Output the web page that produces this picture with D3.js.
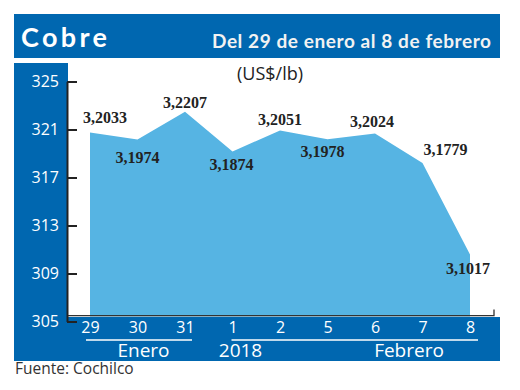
<!DOCTYPE html>
<html>
<head>
<meta charset="utf-8">
<script src="https://cdn.jsdelivr.net/npm/d3@7"></script>
<style>
  html, body { margin: 0; padding: 0; background: #ffffff; }
  svg { display: block; }
</style>
</head>
<body>
<svg id="chart" width="520" height="390"></svg>
<script>
// ---- data ----
const categories = ["29", "30", "31", "1", "2", "5", "6", "7", "8"];
const prices = [3.2033, 3.1974, 3.2207, 3.1874, 3.2051, 3.1978, 3.2024, 3.1779, 3.1017];
const yTicks = [305, 309, 313, 317, 321, 325];
const monthLabels = ["Enero", "2018", "Febrero"];
const monthGroups = [["29", "31"], ["1", "8"]];
const titleText = "Cobre";
const subtitleText = "Del 29 de enero al 8 de febrero";
const unitText = "(US$/lb)";
const sourceText = "Fuente: Cochilco";

// ---- layout / style ----
const darkBlue = "#0067b0";
const areaBlue = "#56b4e3";
const ink = "#222222";
const left = 14, right = 500;
const headerTop = 14, headerBottom = 58;
const plotTop = 63, axisX = 67, stripRight = 68;
const bandTop = 317, bandBottom = 361;
const tickShift = 5; // the printed tick scale sits slightly below the data scale
// label placement relative to the point: [dx, dy]
const labelPlacement = [[15, -10], [0, 23], [0, -4], [-1, 18], [0, -5], [-5, 18], [-3, -7], [23, -8], [-2, 20]];
// month label anchors: [category, dx]
const monthAnchors = [["30", 6], ["1", 8], ["6", 34]];

const svg = d3.select("#chart");

// scales
const x = d3.scalePoint().domain(categories).range([90, 470]);
const y = d3.scaleLinear().domain([305, 325]).range([316.5, 76.5]);

// header
svg.append("rect").attr("x", left).attr("y", headerTop)
  .attr("width", right - left).attr("height", headerBottom - headerTop).attr("fill", darkBlue);
svg.append("text").attr("x", 21).attr("y", 47)
  .attr("font-family", "Lato, 'Open Sans', sans-serif").attr("font-weight", "bold")
  .attr("font-size", 27).attr("fill", "#ffffff")
  .attr("textLength", 86).attr("lengthAdjust", "spacing")
  .text(titleText);
svg.append("text").attr("x", 212).attr("y", 48)
  .attr("font-family", "Lato, 'Open Sans', sans-serif").attr("font-weight", "bold")
  .attr("font-size", 19).attr("fill", "#f2f2f2")
  .attr("textLength", 279).attr("lengthAdjust", "spacing")
  .text(subtitleText);

// left strip and bottom band
svg.append("rect").attr("x", left).attr("y", plotTop)
  .attr("width", stripRight - left).attr("height", bandBottom - plotTop).attr("fill", darkBlue);
svg.append("rect").attr("x", left).attr("y", bandTop)
  .attr("width", right - left).attr("height", bandBottom - bandTop).attr("fill", darkBlue);

// unit label
svg.append("text").attr("x", 270).attr("y", 80).attr("text-anchor", "middle")
  .attr("font-family", "'Open Sans', sans-serif").attr("font-size", 18).attr("fill", ink)
  .text(unitText);

// area
const area = d3.area()
  .x((d, i) => x(categories[i]))
  .y0(y(305))
  .y1(d => y(d * 100));
svg.append("path").datum(prices).attr("d", area).attr("fill", areaBlue);

// baseline of the plot
svg.append("path")
  .attr("d", `M${axisX},${y(305) - 0.8}H494V${y(305) - 7}`)
  .attr("fill", "none").attr("stroke", "#333").attr("stroke-width", 1.3);

// value labels
svg.append("g").selectAll("text").data(prices).join("text")
  .attr("x", (d, i) => x(categories[i]) + labelPlacement[i][0] - 22)
  .attr("y", (d, i) => y(d * 100) + labelPlacement[i][1])
  .attr("font-family", "'Liberation Serif', 'Times New Roman', serif")
  .attr("font-weight", "bold").attr("font-size", 17).attr("fill", ink)
  .attr("textLength", 44).attr("lengthAdjust", "spacingAndGlyphs")
  .text(d => d.toFixed(4).replace(".", ","));

// y axis
const yAxis = d3.axisLeft(y).tickValues(yTicks).tickSize(-10).tickSizeOuter(0).tickPadding(8)
  .tickFormat(d3.format("d"));
const gy = svg.append("g").attr("transform", `translate(${axisX},${tickShift})`).call(yAxis);
gy.select(".domain").attr("stroke", ink).attr("stroke-width", 2);
gy.selectAll(".tick line").attr("stroke", ink).attr("stroke-width", 2);
gy.selectAll(".tick text").attr("fill", "#ffffff")
  .attr("font-family", "'Open Sans', sans-serif").attr("font-size", 16);

// x axis
const xAxis = d3.axisBottom(x).tickSize(0).tickPadding(5);
const gx = svg.append("g").attr("transform", `translate(0,${bandTop})`).call(xAxis);
gx.select(".domain").remove();
gx.selectAll(".tick text").attr("fill", "#ffffff")
  .attr("font-family", "'Open Sans', sans-serif").attr("font-size", 16);

// month group underlines
const groupPad = [[-4, 7], [-1, 8]];
svg.append("g").selectAll("line").data(monthGroups).join("line")
  .attr("x1", (d, i) => x(d[0]) + groupPad[i][0])
  .attr("x2", (d, i) => x(d[1]) + groupPad[i][1])
  .attr("y1", 340).attr("y2", 340)
  .attr("stroke", "#ffffff").attr("stroke-width", 1.5);

// month labels
svg.append("g").selectAll("text").data(monthLabels).join("text")
  .attr("x", (d, i) => x(monthAnchors[i][0]) + monthAnchors[i][1])
  .attr("y", 357).attr("text-anchor", "middle")
  .attr("font-family", "'Open Sans', sans-serif").attr("font-size", 19).attr("fill", "#ffffff")
  .text(d => d);

// source
svg.append("text").attr("x", 15).attr("y", 374)
  .attr("font-family", "'Open Sans', sans-serif").attr("font-size", 15.5).attr("fill", "#333333")
  .text(sourceText);
</script>
</body>
</html>
